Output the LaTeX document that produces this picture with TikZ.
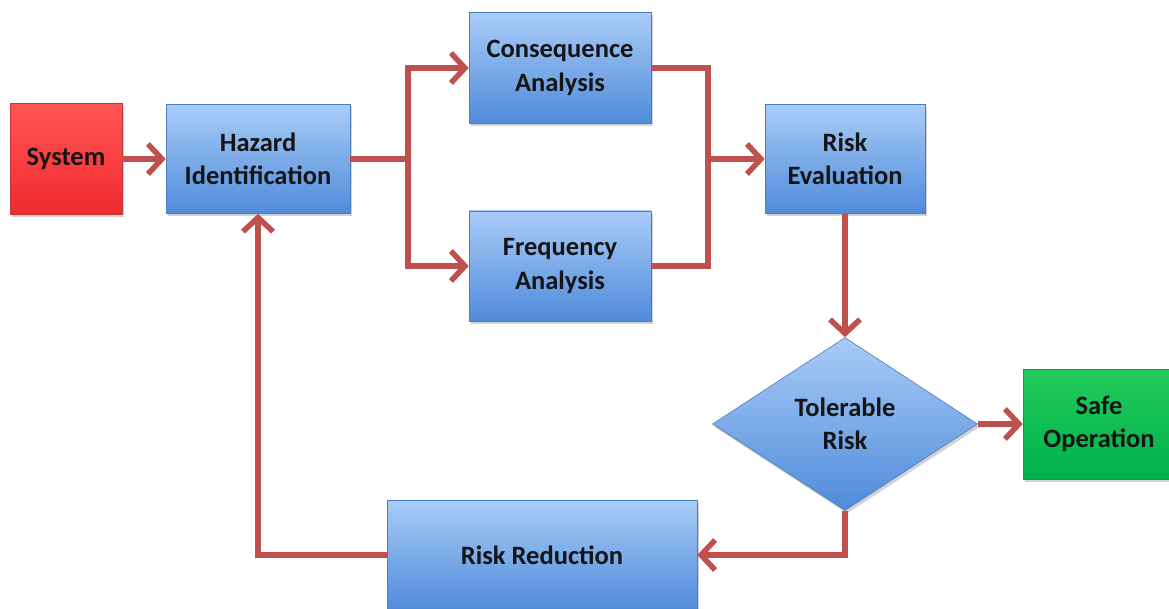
\documentclass[tikz,border=0pt]{standalone}
\usepackage{fontspec}
\setmainfont{Carlito}
\usetikzlibrary{shapes.geometric,arrows.meta,shadows}
\definecolor{arr}{HTML}{C0504D}
\definecolor{bluetop}{HTML}{A9CCF7}
\definecolor{bluebot}{HTML}{4F8BDB}
\definecolor{blueedge}{HTML}{4A7EBB}
\definecolor{redtop}{HTML}{FF5555}
\definecolor{redbot}{HTML}{F02A2F}
\definecolor{rededge}{HTML}{C0383A}
\definecolor{greentop}{HTML}{22CC5A}
\definecolor{greenbot}{HTML}{00B04C}
\definecolor{greenedge}{HTML}{1E9146}
\definecolor{txt}{HTML}{151515}
\begin{document}
\begin{tikzpicture}[x=1pt,y=-1pt,
  basebox/.style={rectangle, line width=0.6pt, align=center, inner sep=0pt,
    text=txt, font=\fontsize{26.5}{33.5}\selectfont\bfseries,
    drop shadow={shadow xshift=2pt,shadow yshift=-3pt,opacity=0.35}},
  bluebox/.style={basebox, top color=bluetop, bottom color=bluebot, draw=blueedge},
  redbox/.style={basebox, top color=redtop, bottom color=redbot, draw=rededge},
  greenbox/.style={basebox, top color=greentop, bottom color=greenbot, draw=greenedge},
  decide/.style={bluebox, diamond},
  conn/.style={draw=arr, line width=5.5pt},
  arrowc/.style={conn, -{Straight Barb[length=14pt,width=30pt]}}
]
\useasboundingbox (0,0) rectangle (1169,609);
\fill[white] (0,0) rectangle (1169,609);

\node[redbox, minimum width=112pt, minimum height=111pt] (sys) at (66,159) {System};
\node[bluebox, minimum width=184pt, minimum height=109pt] (haz) at (258,159) {Hazard\\Identification};
\node[bluebox, minimum width=182pt, minimum height=111pt] (cons) at (560,68) {Consequence\\Analysis};
\node[bluebox, minimum width=182pt, minimum height=110pt] (freq) at (560,266) {Frequency\\Analysis};
\node[bluebox, minimum width=160pt, minimum height=109pt] (reval) at (845,159) {Risk\\Evaluation};
\node[decide, minimum width=265pt, minimum height=173pt] (tol) at (845,424) {Tolerable\\Risk};
\node[greenbox, minimum width=152pt, minimum height=110pt] (safe) at (1099,424) {Safe\\Operation};
\node[bluebox, minimum width=310pt, minimum height=110pt] (rred) at (542,555) {Risk Reduction};

\coordinate (j1) at (408,159);
\coordinate (j2) at (708,159);

\draw[arrowc] (sys) -- (haz);
\draw[conn] (haz.east) -- (j1);
\draw[arrowc] (j1) |- (cons.west);
\draw[arrowc] (j1) |- (freq.west);
\draw[conn] (cons.east) -| (j2) |- (freq.east);
\draw[arrowc] (j2) -- (reval.west);
\draw[arrowc] (reval.south) -- (tol.north);
\draw[arrowc] (tol.east) -- (safe.west);
\draw[arrowc] (tol.south) |- (rred.east);
\draw[arrowc] (rred.west) -| (haz.south);
\end{tikzpicture}
\end{document}
